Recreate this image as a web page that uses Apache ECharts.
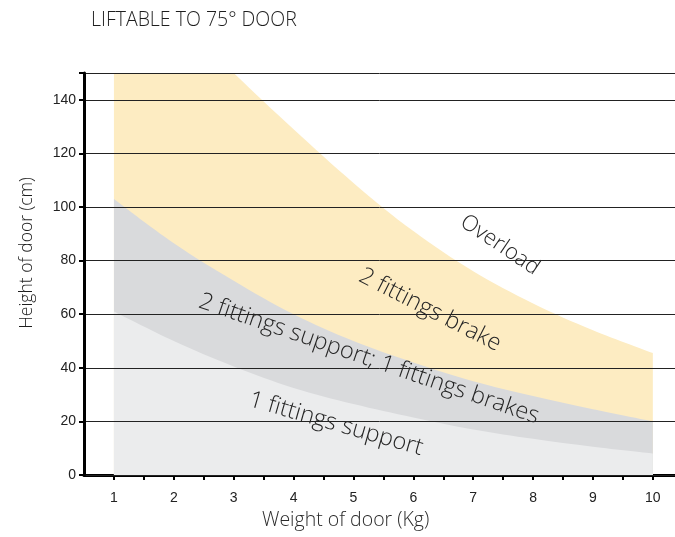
<!DOCTYPE html>
<html>
<head>
<meta charset="utf-8">
<script src="https://cdn.jsdelivr.net/npm/echarts@6/dist/echarts.min.js"></script>
<style>html,body{margin:0;padding:0;background:#fff}#c{width:675px;height:537px}</style>
</head>
<body>
<div id="c"></div>
<script>
// ---- data ----
const weights = [1, 2, 3, 4, 5, 6, 7, 8, 9, 10];            // Weight of door (Kg)
const oneFittingSupport = [61, 50, 40.5, 32.5, 26.5, 21.5, 17, 13.5, 10.5, 8];   // upper edge of light-grey zone
const twoFittingsSupport = [103, 86.5, 72.5, 60, 50, 42, 35, 29.5, 24.5, 20];    // upper edge of grey zone
const twoFittingsBrake = [196, 172, 150, 129, 109, 91, 76, 64, 54, 45.5];        // upper edge of yellow zone
const yTicks = [0, 20, 40, 60, 80, 100, 120, 140];
const zoneLabels = [
  { text: 'Overload', x: 500, y: 245, angle: 34, size: 22 },
  { text: '2 fittings brake', x: 430, y: 310, angle: 27, size: 23.5 },
  { text: '2 fittings support; 1 fittings brakes', x: 369, y: 359, angle: 19, size: 23.5 },
  { text: '1 fittings support', x: 336, y: 424, angle: 16, size: 23.5 }
];

const pairs = arr => weights.map((w, i) => [w, arr[i]]);
const font = '"Open Sans", "Noto Sans", sans-serif';
const tickFont = '"Liberation Sans", Arial, sans-serif';

function area(name, data, color) {
  return {
    name, type: 'line', data: pairs(data), smooth: 0.35, showSymbol: false,
    lineStyle: { width: 0, opacity: 0 }, areaStyle: { color, opacity: 1, origin: 'start' },
    clip: true, silent: true, z: 1
  };
}

const chart = echarts.init(document.getElementById('c'), null, { renderer: 'canvas' });
chart.setOption({
  animation: false,
  backgroundColor: '#fff',
  title: {
    text: 'LIFTABLE TO 75° DOOR', left: 86, top: 5,
    textStyle: { fontFamily: font, fontWeight: 300, fontSize: 19.5, color: '#1e1e1e' }
  },
  grid: { left: 84, right: 0, top: 73, bottom: 62, containLabel: false },
  xAxis: {
    type: 'value', min: 0.5, max: 10.37, interval: 0.5,
    axisLine: { show: true, onZero: false, lineStyle: { color: '#000', width: 3 } },
    axisTick: { show: true, length: 5, lineStyle: { color: '#000', width: 2 } },
    axisLabel: {
      margin: 16, fontFamily: tickFont, fontSize: 14, color: '#222',
      showMaxLabel: false, showMinLabel: false,
      formatter: v => Number.isInteger(v) ? String(v) : ''
    },
    splitLine: { show: false }
  },
  yAxis: {
    type: 'value', min: 0, max: 150, interval: 20,
    axisLine: { show: true, lineStyle: { color: '#000', width: 3 } },
    axisTick: { show: true, length: 5, lineStyle: { color: '#000', width: 2 } },
    axisLabel: {
      margin: 8, fontFamily: tickFont, fontSize: 14, color: '#222',
      formatter: v => yTicks.includes(v) ? String(v) : ''
    },
    splitLine: { show: true, lineStyle: { color: '#222', width: 1 } },
    z: 3
  },
  series: [
    area('2 fittings brake', twoFittingsBrake, '#fdecc2'),
    area('2 fittings support; 1 fittings brakes', twoFittingsSupport, '#d9dadc'),
    area('1 fittings support', oneFittingSupport, '#ebeced')
  ],
  graphic: [
    {
      type: 'text', left: 262, top: 510,
      style: { text: 'Weight of door (Kg)', fontFamily: font, fontWeight: 300, fontSize: 19.5, fill: '#2a2a2a' }
    },
    {
      type: 'text', x: 27, y: 253, rotation: Math.PI / 2,
      style: { text: 'Height of door (cm)', fontFamily: font, fontWeight: 300, fontSize: 17.5, fill: '#1e1e1e', align: 'center', verticalAlign: 'middle' }
    }
  ].concat(zoneLabels.map(l => ({
    type: 'text', x: l.x, y: l.y, rotation: -l.angle * Math.PI / 180, z: 10,
    style: { text: l.text, fontFamily: font, fontWeight: 300, fontSize: l.size, fill: '#262626', align: 'center', verticalAlign: 'middle' }
  })))
});
</script>
</body>
</html>
